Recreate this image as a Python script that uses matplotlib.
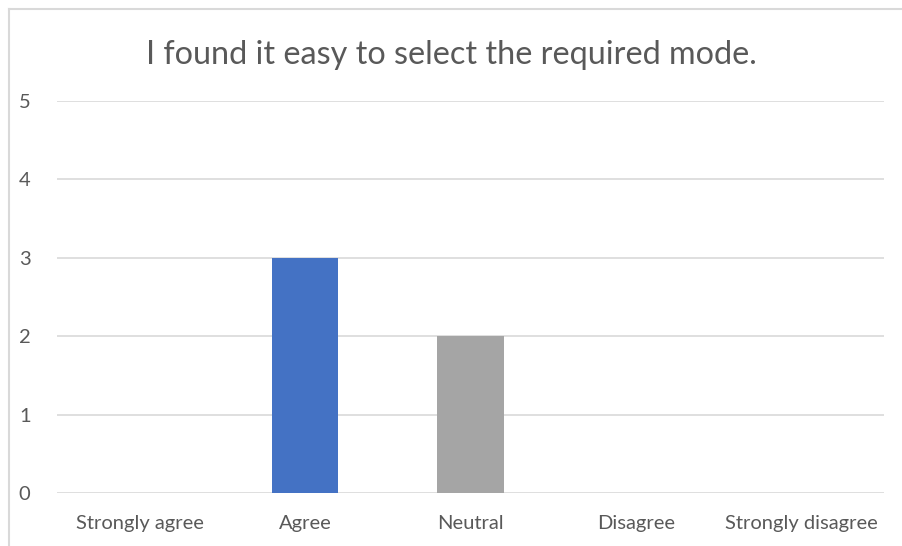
import matplotlib.pyplot as plt
from matplotlib.lines import Line2D

# survey answers
categories = ['Strongly agree', 'Agree', 'Neutral', 'Disagree', 'Strongly disagree']
counts = [0, 3, 2, 0, 0]
bar_colors = ['#4472C4', '#4472C4', '#A5A5A5', '#A5A5A5', '#A5A5A5']
title = 'I found it easy to select the required mode.'

plt.rcParams['font.family'] = ['Lato', 'DejaVu Sans']

W, H = 902, 546
fig = plt.figure(figsize=(W / 100, H / 100), dpi=100)
fig.patch.set_facecolor('white')

ax = fig.add_axes([57 / W, 1 - 493 / H, (884 - 57) / W, (493 - 101) / H])

x = list(range(len(categories)))
ax.bar(x, counts, width=0.4, color=bar_colors, zorder=3)

ax.set_xlim(-0.5, len(categories) - 0.5)
ax.set_ylim(0, 5)
ax.set_yticks(range(6))
ax.set_xticks(x)
ax.set_xticklabels(categories)
ax.yaxis.grid(True, color='#D9D9D9', linewidth=1.2, zorder=0)
for s in ax.spines.values():
    s.set_visible(False)
ax.tick_params(length=0, labelsize=14.5, colors='#595959')
ax.tick_params(axis='x', pad=16)
ax.tick_params(axis='y', pad=19)

fig.text(0.5, 1 - 55 / H, title, ha='center', va='center',
         fontsize=23.3, color='#595959')

# chart frame (cropped at right and bottom)
fig.add_artist(Line2D([9 / W, 1], [1 - 9 / H, 1 - 9 / H], color='#D9D9D9', linewidth=1.5))
fig.add_artist(Line2D([9 / W, 9 / W], [0, 1 - 9 / H], color='#D9D9D9', linewidth=1.5))

fig.savefig('out.png', dpi=100, facecolor='white')
